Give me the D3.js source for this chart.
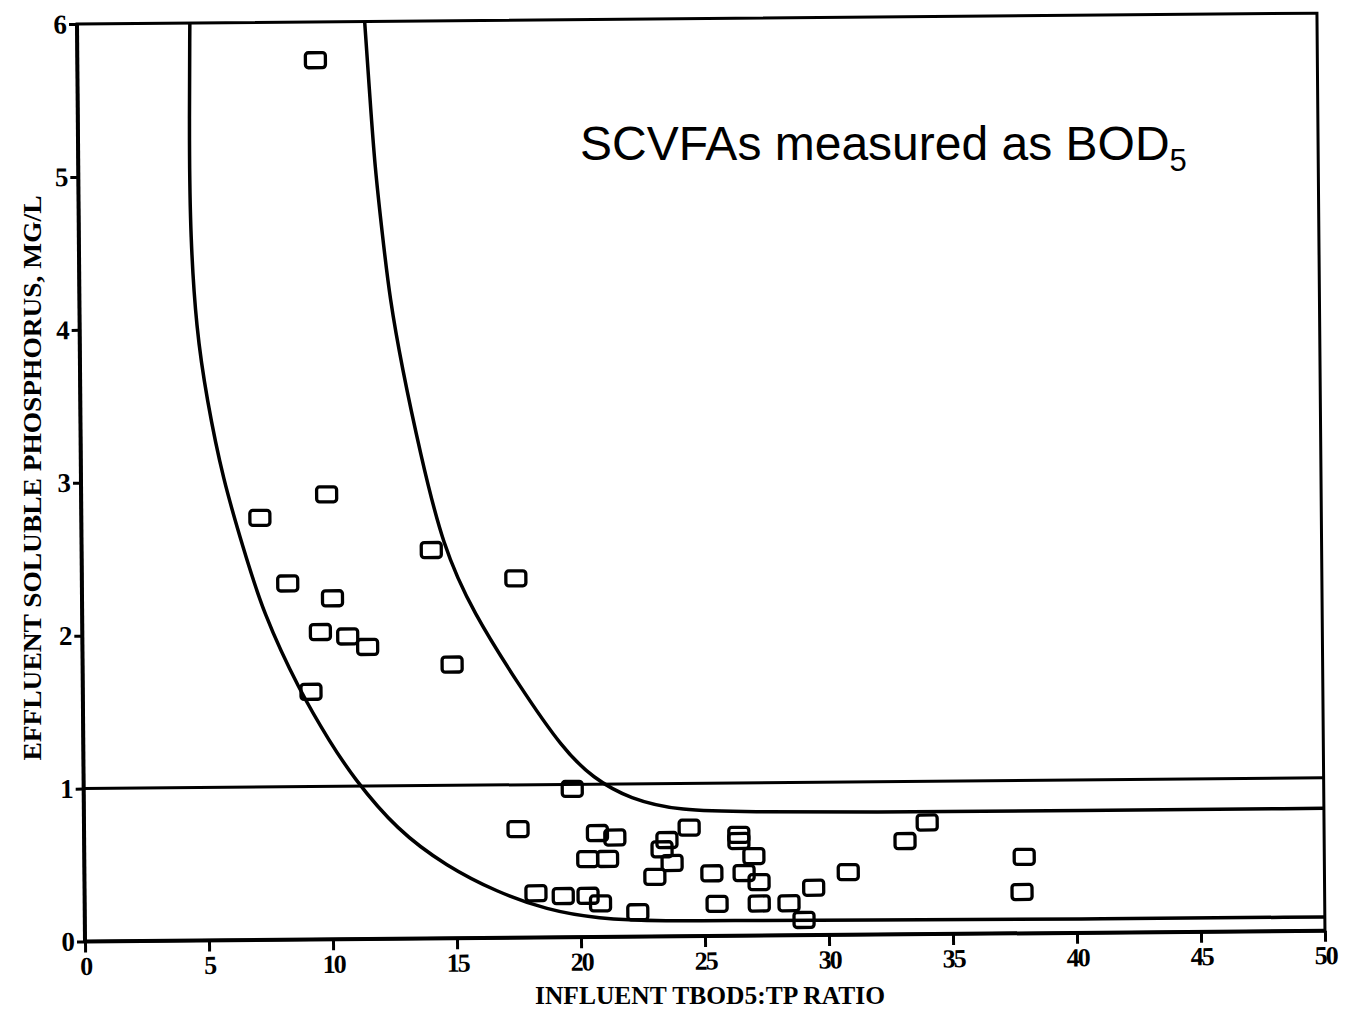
<!DOCTYPE html>
<html>
<head>
<meta charset="utf-8">
<script src="https://cdn.jsdelivr.net/npm/d3@7/dist/d3.min.js"></script>
<style>
  html, body { margin: 0; padding: 0; background: #fff; }
  svg { display: block; }
</style>
</head>
<body>
<svg id="chart" width="1346" height="1013"></svg>
<script>
// ---- data ----
const xTicks = [0, 5, 10, 15, 20, 25, 30, 35, 40, 45, 50];
const yTicks = [0, 1, 2, 3, 4, 5, 6];

const pointX = [9.6, 7.2, 9.9, 14.1, 17.5, 8.3, 10.1, 9.6, 10.7, 11.5, 14.9, 9.2,
  19.7, 17.5, 20.7, 21.4, 20.3, 21.1, 23.5, 23.3, 23.7, 23.0, 24.4, 26.4, 26.4,
  27.0, 26.6, 27.2, 25.3, 18.2, 19.3, 20.3, 20.8, 22.3, 25.5, 27.2, 28.4, 29.4,
  29.0, 30.8, 34.0, 33.1, 37.9, 37.8];
const pointY = [5.75, 2.76, 2.91, 2.54, 2.35, 2.33, 2.23, 2.01, 1.98, 1.91, 1.79, 1.62,
  0.97, 0.71, 0.68, 0.65, 0.51, 0.51, 0.63, 0.57, 0.48, 0.39, 0.71, 0.66, 0.62,
  0.52, 0.41, 0.35, 0.41, 0.29, 0.27, 0.27, 0.22, 0.16, 0.21, 0.21, 0.21, 0.31,
  0.10, 0.41, 0.73, 0.61, 0.50, 0.27];

// lower envelope curve
const lowerCurveX = [4.55, 4.48, 4.5, 4.7, 5.1, 5.73, 6.51, 7.29, 8.76, 9.95, 10.86,
  12.62, 14.62, 16.63, 18.64, 20.65, 23.3, 26.8, 31, 40, 50];
const lowerCurveY = [6.0, 5.2, 4.6, 4.0, 3.54, 3.01, 2.57, 2.14, 1.62, 1.29, 1.06,
  0.71, 0.47, 0.30, 0.18, 0.12, 0.10, 0.10, 0.095, 0.09, 0.09];

// upper envelope curve
const upperCurveX = [11.6, 11.79, 11.96, 12.23, 12.52, 12.98, 13.68, 14.57, 15.76,
  17.63, 19.34, 20.54, 22.02, 24.04, 26.85, 31.3, 40, 50];
const upperCurveY = [6.0, 5.49, 5.05, 4.62, 4.18, 3.74, 3.18, 2.56, 2.13,
  1.64, 1.23, 1.04, 0.90, 0.82, 0.81, 0.80, 0.80, 0.80];

// horizontal reference line
const refLineX = [0, 50];
const refLineY = [1, 1];

const xTitle = "INFLUENT TBOD5:TP RATIO";
const yTitle = "EFFLUENT SOLUBLE PHOSPHORUS, MG/L";
const noteMain = "SCVFAs measured as BOD";
const noteSub = "5";

// ---- drawing ----
const svg = d3.select("#chart");
const x = d3.scaleLinear().domain([0, 50]).range([85, 1325]);
const y = d3.scaleLinear().domain([0, 6]).range([941.5, 24]);

const serif = "'Liberation Serif', 'DejaVu Serif', serif";

const g = svg.append("g").attr("transform", "rotate(-0.5,85,941.5)");

// frame
g.append("rect")
  .attr("x", x(0)).attr("y", y(6))
  .attr("width", x(50) - x(0)).attr("height", y(0) - y(6))
  .attr("fill", "none").attr("stroke", "#000").attr("stroke-width", 3);

// thicker axes lines
g.append("line").attr("x1", x(0)).attr("x2", x(50)).attr("y1", y(0)).attr("y2", y(0))
  .attr("stroke", "#000").attr("stroke-width", 4);
g.append("line").attr("x1", x(0)).attr("x2", x(0)).attr("y1", y(0)).attr("y2", y(6))
  .attr("stroke", "#000").attr("stroke-width", 4);

// x axis
const xAxis = g.append("g").attr("transform", `translate(0,${y(0)})`)
  .call(d3.axisBottom(x).tickValues(xTicks).tickSize(11).tickPadding(4).tickFormat(d3.format("d")));
xAxis.select(".domain").remove();
xAxis.selectAll(".tick line").attr("stroke", "#000").attr("stroke-width", 3);
xAxis.selectAll(".tick text")
  .attr("font-family", serif).attr("font-weight", "bold").attr("font-size", 26)
  .attr("fill", "#000").attr("letter-spacing", -2);

// y axis
const yAxis = g.append("g").attr("transform", `translate(${x(0)},0)`)
  .call(d3.axisLeft(y).tickValues(yTicks).tickSize(8).tickPadding(2).tickFormat(d3.format("d")));
yAxis.select(".domain").remove();
yAxis.selectAll(".tick line").attr("stroke", "#000").attr("stroke-width", 3);
yAxis.selectAll(".tick text")
  .attr("font-family", serif).attr("font-weight", "bold").attr("font-size", 27)
  .attr("fill", "#000");

// lines
const line = d3.line().x(d => x(d[0])).y(d => y(d[1])).curve(d3.curveBasis);
const zip = (a, b) => a.map((v, i) => [v, b[i]]);

g.append("path").datum(zip(refLineX, refLineY))
  .attr("d", d3.line().x(d => x(d[0])).y(d => y(d[1])))
  .attr("fill", "none").attr("stroke", "#000").attr("stroke-width", 3);

g.append("path").datum(zip(lowerCurveX, lowerCurveY))
  .attr("d", line).attr("fill", "none").attr("stroke", "#000").attr("stroke-width", 3.5);

g.append("path").datum(zip(upperCurveX, upperCurveY))
  .attr("d", line).attr("fill", "none").attr("stroke", "#000").attr("stroke-width", 3.5);

// points (open squares)
const bw = 20, bh = 15;
g.append("g").selectAll("rect").data(zip(pointX, pointY)).join("rect")
  .attr("x", d => x(d[0]) - bw / 2).attr("y", d => y(d[1]) - bh / 2)
  .attr("width", bw).attr("height", bh).attr("rx", 3)
  .attr("fill", "none").attr("stroke", "#000").attr("stroke-width", 3.3);

// axis titles
svg.append("text")
  .attr("x", 710).attr("y", 1004).attr("text-anchor", "middle")
  .attr("font-family", serif).attr("font-weight", "bold").attr("font-size", 26)
  .attr("textLength", 350).attr("lengthAdjust", "spacingAndGlyphs")
  .text(xTitle);

svg.append("text")
  .attr("transform", "translate(41,478) rotate(-90)")
  .attr("text-anchor", "middle")
  .attr("font-family", serif).attr("font-weight", "bold").attr("font-size", 26)
  .attr("textLength", 565).attr("lengthAdjust", "spacingAndGlyphs")
  .text(yTitle);

// annotation
const note = svg.append("text")
  .attr("x", 580).attr("y", 160)
  .attr("font-family", "'Liberation Sans', Arial, sans-serif").attr("font-size", 48)
  .attr("fill", "#000");
note.append("tspan").text(noteMain);
note.append("tspan").attr("font-size", 31).attr("dy", 11).text(noteSub);
</script>
</body>
</html>
